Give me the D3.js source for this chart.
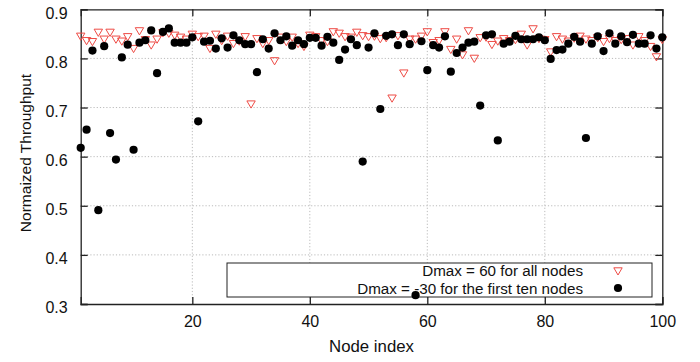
<!DOCTYPE html>
<html><head><meta charset="utf-8">
<script src="https://cdn.jsdelivr.net/npm/d3@7"></script>
<style>body{margin:0;background:#fff}svg{display:block}text{font-family:"Liberation Sans",Arial,sans-serif;fill:#111}</style>
</head><body><svg id="c" width="700" height="362"></svg>
<script>
const nodeIndex = d3.range(1, 101);
const dmax60All = [0.845,0.836,0.834,0.853,0.839,0.853,0.839,0.835,0.844,0.820,
0.856,0.838,0.827,0.839,0.852,0.851,0.847,0.843,0.839,0.849,
0.844,0.845,0.820,0.849,0.836,0.845,0.830,0.835,0.844,0.707,
0.840,0.830,0.836,0.795,0.843,0.834,0.843,0.830,0.824,0.847,
0.844,0.836,0.834,0.854,0.851,0.844,0.843,0.853,0.846,0.844,
0.845,0.840,0.842,0.719,0.846,0.770,0.839,0.839,0.845,0.854,
0.832,0.836,0.854,0.818,0.839,0.807,0.856,0.800,0.842,0.843,
0.828,0.835,0.840,0.836,0.838,0.849,0.827,0.860,0.840,0.838,
0.813,0.844,0.839,0.835,0.841,0.845,0.839,0.836,0.842,0.834,
0.840,0.836,0.838,0.840,0.827,0.844,0.836,0.824,0.803,0.838];
const dmaxNeg30First10 = [0.618,0.655,0.816,0.491,0.825,0.648,0.594,0.802,0.828,0.614,
0.832,0.837,0.857,0.770,0.854,0.861,0.832,0.832,0.832,0.843,
0.672,0.834,0.836,0.820,0.841,0.822,0.847,0.837,0.829,0.829,
0.772,0.839,0.820,0.851,0.837,0.845,0.826,0.837,0.829,0.842,
0.842,0.826,0.844,0.832,0.797,0.818,0.839,0.827,0.590,0.822,
0.851,0.697,0.846,0.849,0.827,0.849,0.829,0.318,0.835,0.776,
0.827,0.822,0.845,0.773,0.811,0.822,0.832,0.834,0.704,0.847,
0.849,0.633,0.830,0.834,0.846,0.839,0.839,0.839,0.843,0.837,
0.799,0.817,0.818,0.830,0.844,0.834,0.638,0.830,0.845,0.815,
0.851,0.830,0.845,0.833,0.848,0.830,0.830,0.847,0.820,0.843];
const xTicks = [20,40,60,80,100];
const yTicks = [0.3,0.4,0.5,0.6,0.7,0.8,0.9];
const seriesNames = ["Dmax = 60 for all nodes","Dmax = -30 for the first ten nodes"];

const L=80.7,R=662.3,T=9.3,B=304;
const svg=d3.select("#c");
const x=d3.scaleLinear().domain([1,100]).range([L,R]);
const y=d3.scaleLinear().domain([0.3,0.9]).range([B,T]);
const red="#ee4b45";

// grid
const g=svg.append("g");
g.selectAll("line.gx").data(xTicks.filter(v=>v<100)).join("line")
 .attr("x1",d=>x(d)).attr("x2",d=>x(d)).attr("y1",T).attr("y2",B)
 .attr("stroke","#bbb").attr("stroke-dasharray","1.2,2").attr("stroke-width",1);
g.selectAll("line.gy").data(yTicks.filter(v=>v>0.3&&v<0.9)).join("line")
 .attr("y1",d=>y(d)).attr("y2",d=>y(d)).attr("x1",L).attr("x2",R)
 .attr("stroke","#bbb").attr("stroke-dasharray","1.2,2").attr("stroke-width",1);

// legend box (opaque)
svg.append("rect").attr("x",227).attr("y",263).attr("width",425).attr("height",34)
 .attr("fill","#fff").attr("stroke","#222").attr("stroke-width",1);
svg.append("text").attr("x",583).attr("y",276).attr("text-anchor","end").attr("font-size",15.2).text(seriesNames[0]);
svg.append("text").attr("x",583).attr("y",293.8).attr("text-anchor","end").attr("font-size",15.2).text(seriesNames[1]);

// axes (ticks inward on all sides)
const axB=d3.axisBottom(x).tickValues(xTicks).tickSize(-7).tickPadding(12);
const axT=d3.axisTop(x).tickValues(xTicks).tickSize(-7).tickFormat("");
const axL=d3.axisLeft(y).tickValues(yTicks).tickSize(-7).tickPadding(13).tickFormat(d3.format(".1f"));
const axR=d3.axisRight(y).tickValues(yTicks).tickSize(-7).tickFormat("");
function style(sel){sel.select(".domain").attr("stroke","#222").attr("stroke-width",1.3);
 sel.selectAll(".tick line").attr("stroke","#222").attr("stroke-width",1.3);
 sel.selectAll(".tick text").attr("font-size",16).attr("fill","#111").attr("font-family","Liberation Sans, Arial, sans-serif");}
svg.append("g").attr("transform",`translate(0,${B})`).call(axB).call(style);
svg.append("g").attr("transform",`translate(0,${T})`).call(axT).call(style);
const gl=svg.append("g").attr("transform",`translate(${L},0)`).call(axL).call(style);
svg.append("g").attr("transform",`translate(${R},0)`).call(axR).call(style);
gl.selectAll(".tick text").attr("dy","0.55em");

// titles
svg.append("text").attr("x",(L+R)/2).attr("y",352).attr("text-anchor","middle").attr("font-size",16.8).text("Node index");
svg.append("text").attr("transform","translate(31,153) rotate(-90)").attr("text-anchor","middle").attr("font-size",15.5).text("Normaized Throughput");

// marks
const tri=(cx,cy)=>`M${cx-4.2},${cy-3.2}L${cx+4.2},${cy-3.2}L${cx},${cy+4}Z`;
svg.append("g").selectAll("path").data(nodeIndex).join("path")
 .attr("d",(d,i)=>tri(x(d),y(dmax60All[i]))).attr("fill","none").attr("stroke",red).attr("stroke-width",1);
svg.append("g").selectAll("circle").data(nodeIndex).join("circle")
 .attr("cx",d=>x(d)).attr("cy",(d,i)=>y(dmaxNeg30First10[i])).attr("r",4.1).attr("fill","#000");
// legend symbols
svg.append("path").attr("d",tri(618,271)).attr("fill","none").attr("stroke",red);
svg.append("circle").attr("cx",618).attr("cy",288).attr("r",4.1).attr("fill","#000");
</script></body></html>
